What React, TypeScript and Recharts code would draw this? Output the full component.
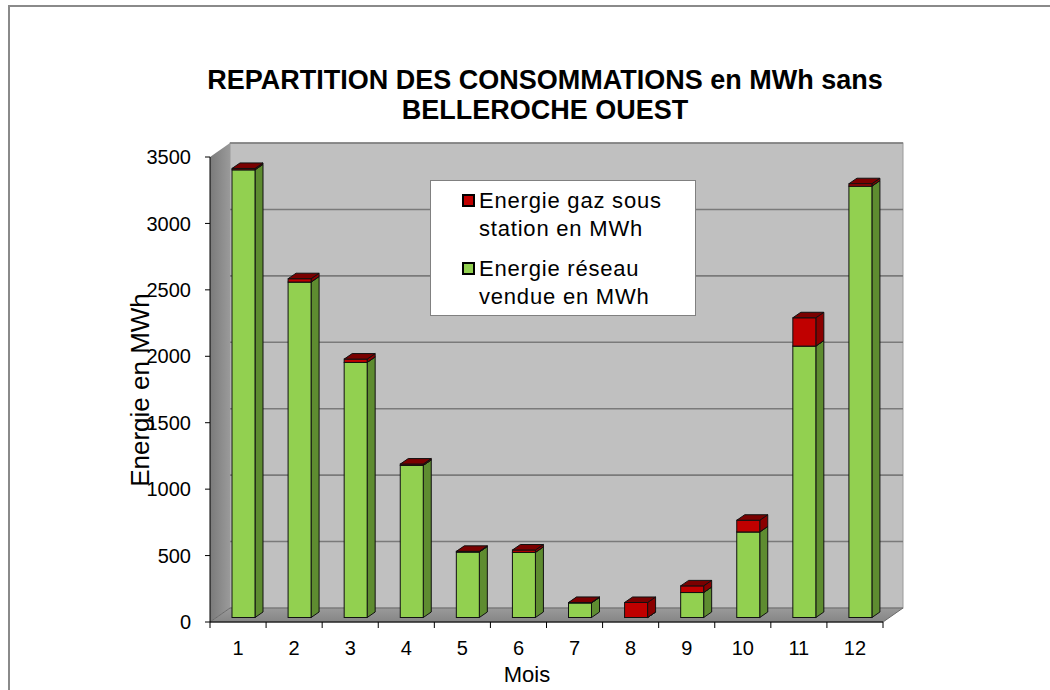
import React from 'react';
import { BarChart, Bar, XAxis, YAxis, Legend, ReferenceArea } from 'recharts';

// ---- data ----
const MONTHS = ['1', '2', '3', '4', '5', '6', '7', '8', '9', '10', '11', '12'];
const RESEAU = [3370, 2525, 1920, 1145, 493, 490, 110, 0, 188, 644, 2043, 3247];
const GAZ = [10, 25, 25, 10, 5, 18, 3, 113, 50, 88, 213, 18];
const Y_TICKS = [0, 500, 1000, 1500, 2000, 2500, 3000, 3500];
const Y_MAX = 3500;
const NAME_GAZ = 'Energie gaz sous station en MWh';
const NAME_RESEAU = 'Energie réseau vendue en MWh';
const TITLE_1 = 'REPARTITION DES CONSOMMATIONS en MWh sans';
const TITLE_2 = 'BELLEROCHE OUEST';
const X_TITLE = 'Mois';
const Y_TITLE = 'Energie en MWh';

const data = MONTHS.map((m, i) => ({ mois: m, reseau: RESEAU[i], gaz: GAZ[i] }));

// ---- styling ----
const FONT = '"Liberation Sans", Arial, Helvetica, sans-serif';
const WALL_DX = 20;
const WALL_DY = -14;
const BAR_DX = 5;
const BAR_DY = -4.5;
const DEPTH_X = 8;
const DEPTH_Y = -5.5;

const GREEN = { front: '#92D050', side: '#5E8C30', top: '#7FB545' };
const RED = { front: '#C00000', side: '#8A0000', top: '#7A0000' };

function Walls(props: any) {
  const { x, y, width, height } = props;
  if (x == null || y == null) return null;
  const bx = x + WALL_DX;
  const by = y + WALL_DY;
  const bottom = y + height;
  return (
    <g>
      <defs>
        <linearGradient id="leftWallGrad" x1="0" y1="0" x2="1" y2="0">
          <stop offset="0%" stopColor="#7a7a7a" />
          <stop offset="100%" stopColor="#9a9a9a" />
        </linearGradient>
        <linearGradient id="floorGrad" x1="0" y1="0" x2="0" y2="1">
          <stop offset="0%" stopColor="#9a9a9a" />
          <stop offset="100%" stopColor="#858585" />
        </linearGradient>
      </defs>
      <rect x={bx} y={by} width={width} height={height} fill="#C0C0C0" stroke="#9a9a9a" strokeWidth={1} />
      {Y_TICKS.filter((v) => v > 0).map((v) => {
        const yy = by + height * (1 - v / Y_MAX);
        return <line key={v} x1={bx} x2={bx + width} y1={yy} y2={yy} stroke="#7a7a7a" strokeWidth={1.6} />;
      })}
      <polygon
        points={`${x},${y} ${bx},${by} ${bx},${by + height} ${x},${bottom}`}
        fill="url(#leftWallGrad)"
      />
      <polygon
        points={`${x},${bottom} ${x + width},${bottom} ${bx + width},${by + height} ${bx},${by + height}`}
        fill="url(#floorGrad)"
        stroke="#6a6a6a"
        strokeWidth={1}
      />
    </g>
  );
}

function Bar3D(props: any) {
  const { x, y, width, height, colors } = props;
  if (x == null || y == null || width == null || height == null) return null;
  const fx = x + BAR_DX;
  const fy = y + BAR_DY;
  const w = width;
  const h = Math.max(0, height);
  const side = `${fx + w},${fy} ${fx + w + DEPTH_X},${fy + DEPTH_Y} ${fx + w + DEPTH_X},${fy + h + DEPTH_Y} ${fx + w},${fy + h}`;
  const top = `${fx},${fy} ${fx + DEPTH_X},${fy + DEPTH_Y} ${fx + w + DEPTH_X},${fy + DEPTH_Y} ${fx + w},${fy}`;
  return (
    <g>
      <polygon points={side} fill={colors.side} stroke="#111" strokeWidth={1} strokeLinejoin="round" />
      <rect x={fx} y={fy} width={w} height={h} fill={colors.front} stroke="#111" strokeWidth={1} />
      <polygon points={top} fill={colors.top} stroke="#111" strokeWidth={1} strokeLinejoin="round" />
    </g>
  );
}

function XTick(props: any) {
  const { x, y, payload, index, width, visibleTicksCount } = props;
  const count = visibleTicksCount || MONTHS.length;
  const half = typeof payload?.offset === 'number' && payload.offset > 0 ? payload.offset : width / count / 2;
  return (
    <g>
      <line x1={x - half} x2={x - half} y1={y} y2={y + 6} stroke="#000" strokeWidth={1} />
      {index === count - 1 && (
        <line x1={x + half} x2={x + half} y1={y} y2={y + 6} stroke="#000" strokeWidth={1} />
      )}
      <text x={x} y={y + 33} textAnchor="middle" fontSize={20} fontFamily={FONT} fill="#000">
        {payload.value}
      </text>
    </g>
  );
}

function LegendBox() {
  const items = [
    { name: NAME_GAZ, color: RED.front },
    { name: NAME_RESEAU, color: GREEN.front },
  ];
  return (
    <div
      style={{
        boxSizing: 'border-box',
        width: 266,
        height: 136,
        background: '#fff',
        border: '1px solid #808080',
        padding: '6px 0 0 31px',
        fontFamily: FONT,
        fontSize: 22,
        letterSpacing: '0.8px',
        lineHeight: '28px',
        color: '#000',
        textAlign: 'left',
      }}
    >
      {items.map((it, i) => (
        <div key={it.name} style={{ display: 'flex', alignItems: 'flex-start', marginTop: i === 0 ? 0 : 12 }}>
          <span
            style={{
              display: 'inline-block',
              boxSizing: 'border-box',
              width: 13,
              height: 13,
              marginTop: 7,
              marginRight: 4,
              background: it.color,
              border: '2px solid #000',
              flex: '0 0 auto',
            }}
          />
          <span style={{ width: 205 }}>{it.name}</span>
        </div>
      ))}
    </div>
  );
}

export default function App() {
  return (
    <div style={{ position: 'absolute', left: 0, top: 0, width: 1050, height: 690, overflow: 'hidden', background: '#fff', fontFamily: FONT }}>
      <div
        style={{
          position: 'absolute',
          left: 8,
          top: 5,
          width: 1042,
          height: 685,
          borderTop: '2px solid #8a8a8a',
          borderLeft: '2px solid #8a8a8a',
          boxSizing: 'border-box',
        }}
      />
      <div style={{ position: 'absolute', left: 0, top: 0 }}>
        <BarChart width={1050} height={690} data={data} margin={{ top: 157, right: 167, bottom: 38, left: 0 }} barSize={23}>
          <ReferenceArea y1={0} y2={Y_MAX} shape={<Walls />} ifOverflow="visible" />
          <XAxis
            dataKey="mois"
            height={30}
            axisLine={{ stroke: '#000', strokeWidth: 1 }}
            tickLine={false}
            tickSize={0}
            tickMargin={0}
            interval={0}
            tick={<XTick />}
          />
          <YAxis
            type="number"
            width={210}
            domain={[0, Y_MAX]}
            ticks={Y_TICKS}
            interval={0}
            axisLine={{ stroke: '#000', strokeWidth: 1 }}
            tickLine={{ stroke: '#000', strokeWidth: 1 }}
            tickSize={5}
            tickMargin={14}
            tick={{ fill: '#000', fontSize: 20, fontFamily: FONT }}
          />
          <Legend
            layout="vertical"
            align="center"
            verticalAlign="middle"
            content={() => <LegendBox />}
            wrapperStyle={{ left: 430, top: 180, width: 266, height: 136 }}
          />
          <Bar
            dataKey="reseau"
            name={NAME_RESEAU}
            stackId="a"
            fill={GREEN.front}
            isAnimationActive={false}
            shape={(p: any) => <Bar3D {...p} colors={GREEN} />}
          />
          <Bar
            dataKey="gaz"
            name={NAME_GAZ}
            stackId="a"
            fill={RED.front}
            isAnimationActive={false}
            shape={(p: any) => <Bar3D {...p} colors={RED} />}
          />
        </BarChart>
      </div>
      <div
        style={{
          position: 'absolute',
          left: 20,
          top: 65,
          width: 1050,
          textAlign: 'center',
          fontFamily: FONT,
          fontWeight: 'bold',
          fontSize: 27,
          lineHeight: '30px',
          color: '#000',
        }}
      >
        <div>{TITLE_1}</div>
        <div>{TITLE_2}</div>
      </div>
      <div
        style={{
          position: 'absolute',
          left: 140,
          top: 390,
          transform: 'translate(-50%, -50%) rotate(-90deg)',
          whiteSpace: 'nowrap',
          fontFamily: FONT,
          fontSize: 26,
          color: '#000',
        }}
      >
        {Y_TITLE}
      </div>
      <div
        style={{
          position: 'absolute',
          left: 527,
          top: 675,
          transform: 'translate(-50%, -50%)',
          whiteSpace: 'nowrap',
          fontFamily: FONT,
          fontSize: 22,
          color: '#000',
        }}
      >
        {X_TITLE}
      </div>
    </div>
  );
}
